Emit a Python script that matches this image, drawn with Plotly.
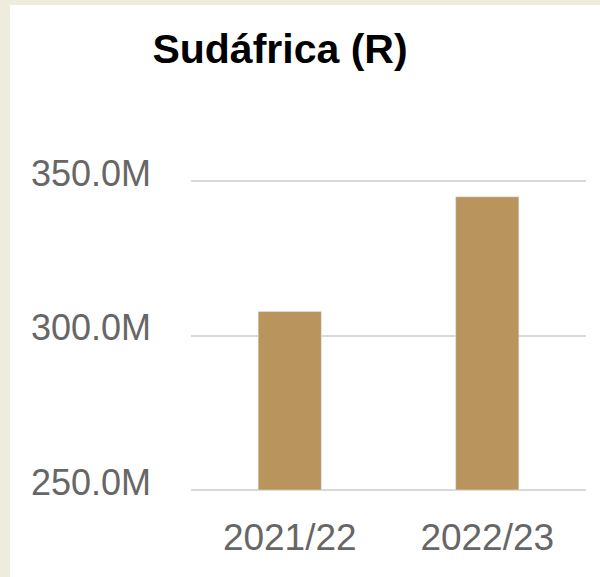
import plotly.graph_objects as go

categories = ["2021/22", "2022/23"]
values_m = [307.8, 344.9]
y_tickvals = [250, 300, 350]
y_ticktext = ["250.0M", "300.0M", "350.0M"]
title_text = "Sudáfrica (R)"
axis_base = 250

W, H = 600, 577
L, R, T, B = 191, 14, 175, 81
pw, ph = W - L - R, H - T - B
# scale so that 250 sits at y=490 px and 350 at y=181 px
scale = (490 - 181) / 100.0
y_lo = 250 - (H - B - 490) / scale
y_hi = 350 + (181 - T) / scale

def px_x(px):
    return (px - L) / pw

def px_y(py):
    return (H - B - py) / ph

fig = go.Figure(go.Bar(x=categories, y=[v - axis_base for v in values_m], base=axis_base,
                       marker_color="#B9945D", width=0.32))

beige = "#EEEDDD"
fig.add_shape(type="rect", xref="paper", yref="paper", x0=px_x(-2), x1=px_x(10),
              y0=px_y(H + 2), y1=px_y(-2), fillcolor=beige, line_width=0, layer="below")
fig.add_shape(type="rect", xref="paper", yref="paper", x0=px_x(-2), x1=px_x(W + 2),
              y0=px_y(5), y1=px_y(-2), fillcolor=beige, line_width=0, layer="below")

fig.update_layout(
    width=W, height=H,
    margin=dict(l=L, r=R, t=T, b=B),
    paper_bgcolor="white", plot_bgcolor="white",
    showlegend=False,
    title=dict(text=title_text, x=280 / W, xanchor="center", xref="container",
               y=1 - 49 / H, yanchor="middle", yref="container",
               font=dict(family="Liberation Sans, Arial, sans-serif", size=41, color="black", weight="bold")),
    font=dict(family="Liberation Sans, Arial, sans-serif", color="#666666"),
)
fig.update_xaxes(showgrid=False, zeroline=False, showline=False, ticks="",
                 tickfont=dict(size=37, color="#666666"), ticklabelstandoff=16)
fig.update_yaxes(range=[y_lo, y_hi], tickvals=y_tickvals, ticktext=y_ticktext,
                 showgrid=True, gridcolor="#D9D9D9", gridwidth=2, zeroline=False,
                 showline=False, ticks="", tickfont=dict(size=36, color="#666666"),
                 ticklabelstandoff=39, ticklabelshift=-8)

fig.write_html("out.html", config={"displayModeBar": False},
               post_script="document.body.style.margin='0';")
